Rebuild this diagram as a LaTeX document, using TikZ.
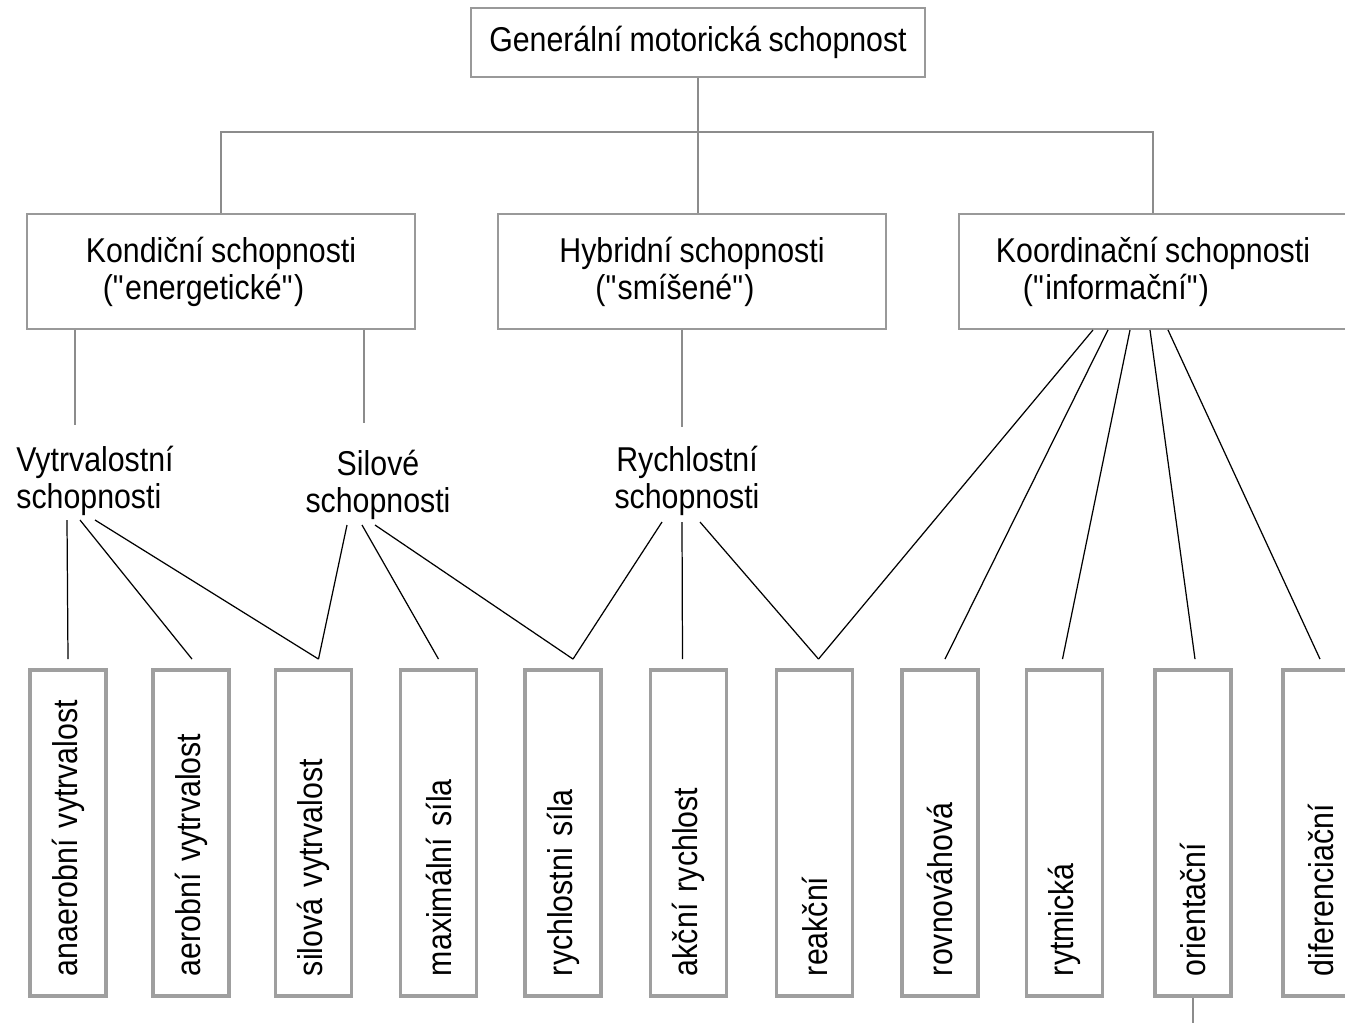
\documentclass[tikz,border=0pt]{standalone}
\usepackage{fontspec}
\setmainfont[FakeStretch=0.88, WordSpace=0.88]{Liberation Sans}
\usetikzlibrary{calc}
\newcommand{\fsize}{\fontsize{19.6pt}{21pt}\selectfont}
\newcommand{\dq}{\textquotedbl}
\tikzset{
	box/.style={draw=gray!80, line width=1.1pt, minimum height=2.3cm, font=\fsize, align=left},
	leaf/.style={draw=gray!75, line width=2.2pt, rotate=90, minimum width=6.52cm, minimum height=1.52cm, text width=5.72cm, inner xsep=0.4cm, align=left, font=\fsize},
	lbl/.style={font=\fsize, inner sep=0pt},
	tree/.style={draw=gray!90, line width=0.8pt},
	link/.style={draw=black, line width=0.7pt}
}

\begin{document}
\begin{tikzpicture}[x=0.2mm, y=-0.2mm]
		\fill[white] (0,0) rectangle (1345,1023);
		\useasboundingbox (0,0) rectangle (1345,1023);
		
		\node[box, minimum width=9.08cm, minimum height=1.38cm] (gen) at (698,42.5) {Generální motorická schopnost};
		
		\node[box, minimum width=7.76cm] (kond) at (221,271.5) {Kondiční schopnosti\\\hspace*{0.34cm}(\dq energetické\dq)};
		\node[box, minimum width=7.76cm] (hyb) at (692,271.5) {Hybridní schopnosti\\\hspace*{0.72cm}(\dq smíšené\dq)};
		\node[box, minimum width=7.76cm] (koord) at (1153,271.5) {Koordinační schopnosti\\\hspace*{0.54cm}(\dq informační\dq)};
		
		\draw[tree] (gen.south) -- (gen.south |- hyb.north);
		\draw[tree] (kond.north) -- ++(0,-81) -| (koord.north);
		
		\node[lbl, align=left] (vytr) at (95,481) {Vytrvalostní\\schopnosti};
		\node[lbl, align=center] (sil) at (378,485) {Silové\\schopnosti};
		\node[lbl, align=center] (rychl) at (687,481) {Rychlostní\\schopnosti};
		
		\draw[tree] ($(kond.south)+(-146,0)$) -- +(0,95);
		\draw[tree] ($(kond.south)+(143,0)$) -- +(0,93);
		\draw[tree] ($(hyb.south)+(-10,0)$) -- +(0,97);
		
		\node[leaf] (anaer) at (68,833) {anaerobní vytrvalost};
		\node[leaf] (aerob) at (191,833) {aerobní vytrvalost};
		\node[leaf] (silvyt) at (313.5,833) {silová vytrvalost};
		\node[leaf] (maxsil) at (438.5,833) {maximální síla};
		\node[leaf] (rychsil) at (563,833) {rychlostni síla};
		\node[leaf] (akcni) at (688.5,833) {akční rychlost};
		\node[leaf] (reakc) at (814.5,833) {reakční};
		\node[leaf] (rovn) at (940,833) {rovnováhová};
		\node[leaf] (rytm) at (1064.5,833) {rytmická};
		\node[leaf] (orient) at (1193,833) {orientační};
		\node[leaf] (difer) at (1321,833) {diferenciační};
		
		\draw[link] ($(vytr.center)+(-28,39)$) -- ($(anaer.east)+(0,-9)$);
		\draw[link] ($(vytr.center)+(-15,39)$) -- ($(aerob.east)+(1,-9)$);
		\draw[link] ($(vytr.center)+(0,39)$) -- ($(silvyt.east)+(5,-9)$);
		
		\draw[link] ($(sil.center)+(-31,40)$) -- ($(silvyt.east)+(5,-9)$);
		\draw[link] ($(sil.center)+(-16,40)$) -- ($(maxsil.east)+(0,-9)$);
		\draw[link] ($(sil.center)+(-3,40)$) -- ($(rychsil.east)+(10,-9)$);
		
		\draw[link] ($(rychl.center)+(-25,41)$) -- ($(rychsil.east)+(10,-9)$);
		\draw[link] ($(rychl.center)+(-5,41)$) -- ($(akcni.east)+(-6,-9)$);
		\draw[link] ($(rychl.center)+(13,41)$) -- ($(reakc.east)+(4,-9)$);
		
		\draw[link] ($(koord.south)+(-60,0)$) -- ($(reakc.east)+(4,-9)$);
		\draw[link] ($(koord.south)+(-45,0)$) -- ($(rovn.east)+(5,-9)$);
		\draw[link] ($(koord.south)+(-23,0)$) -- ($(rytm.east)+(-2,-9)$);
		\draw[link] ($(koord.south)+(-3,0)$) -- ($(orient.east)+(2,-9)$);
		\draw[link] ($(koord.south)+(15,0)$) -- ($(difer.east)+(-1,-9)$);
		
		\coordinate (bottom) at (1193,1023);
		\draw[tree] (orient.west) -- (bottom);
	\end{tikzpicture}
\end{document}
